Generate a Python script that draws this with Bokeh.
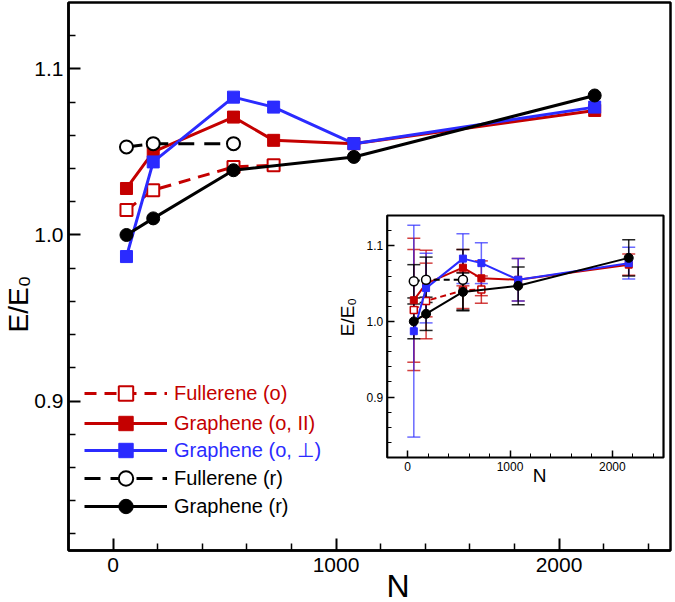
import numpy as np
from bokeh.plotting import figure
from bokeh.models import (Range1d, LinearAxis, FixedTicker, Legend, LegendItem, Title,
                          Whisker, TeeHead, ColumnDataSource, PrintfTickFormatter)
from bokeh.embed import file_html
from bokeh.resources import INLINE

# ---------------- data ----------------
N_full_o = [60, 180, 540, 720]
E_full_o = [1.015, 1.027, 1.041, 1.042]
Err_full_o = [0.080, 0.050, 0.024, 0.018]

N_graph_o = [60, 180, 540, 720, 1080, 2160]
E_graph_par = [1.028, 1.050, 1.071, 1.057, 1.055, 1.075]
Err_graph_par = [0.082, 0.044, 0.024, 0.023, 0.028, 0.014]
E_graph_perp = [0.987, 1.044, 1.083, 1.077, 1.055, 1.077]
Err_graph_perp = [0.140, 0.046, 0.033, 0.027, 0.028, 0.021]

N_full_r = [60, 180, 540]
E_full_r = [1.053, 1.055, 1.055]
Err_full_r = [0.022, 0.030, 0.040]

N_graph_r = [60, 180, 540, 1080, 2160]
E_graph_r = [1.000, 1.010, 1.039, 1.047, 1.084]
Err_graph_r = [0.023, 0.022, 0.025, 0.025, 0.024]

labels = ["Fullerene (o)", "Graphene (o, II)", "Graphene (o, \u22a5)", "Fullerene (r)", "Graphene (r)"]

# axis limits and ticks
X_LIM = (-200, 2500)
Y_LIM = (0.81, 1.14)
X_MAJOR = [0, 1000, 2000]
X_MINOR = [200, 400, 600, 800, 1200, 1400, 1600, 1800, 2200, 2400]
Y_MAJOR = [0.9, 1.0, 1.1]
Y_MINOR = [0.82, 0.84, 0.86, 0.88, 0.92, 0.94, 0.96, 0.98, 1.02, 1.04, 1.06, 1.08, 1.12]
INSET_X_LIM = (-200, 2500)
INSET_Y_LIM = (0.82, 1.14)
INSET_Y_MINOR = [0.84, 0.86, 0.88, 0.92, 0.94, 0.96, 0.98, 1.02, 1.04, 1.06, 1.08, 1.12]

RED = "#c40000"
BLUE = "#2b2bff"
BLACK = "#000000"
FONT = "Liberation Sans"

# ---------------- main figure ----------------
W, H = 675, 602
p = figure(width=W, height=H, x_range=Range1d(*X_LIM), y_range=Range1d(*Y_LIM),
           output_backend="svg", toolbar_location=None,
           min_border_left=68, min_border_right=5, min_border_top=2, min_border_bottom=52,
           background_fill_color="white", border_fill_color="white")
p.xgrid.visible = False
p.ygrid.visible = False
p.outline_line_color = "black"
p.outline_line_width = 2.5
p.outline_line_alpha = 1.0

p.xaxis.ticker = FixedTicker(ticks=X_MAJOR, minor_ticks=X_MINOR)
p.yaxis.ticker = FixedTicker(ticks=Y_MAJOR, minor_ticks=Y_MINOR)
p.yaxis.formatter = PrintfTickFormatter(format="%.1f")
for ax in (p.xaxis[0], p.yaxis[0]):
    ax.major_tick_in = 12
    ax.major_tick_out = 0
    ax.minor_tick_in = 7
    ax.minor_tick_out = 0
    ax.axis_line_width = 2.5
    ax.axis_line_color = "black"
    ax.major_tick_line_width = 2
    ax.minor_tick_line_width = 1.5
    ax.major_label_text_font = FONT
    ax.major_label_text_font_size = "21px"
    ax.major_label_text_color = "black"
p.yaxis.major_label_standoff = 5
p.xaxis.major_label_standoff = 7

# main axis titles, offset along the axis as in the reference
p.add_layout(Title(text="N", align="left", offset=318, standoff=-18, text_font=FONT,
                   text_font_size="32px", text_font_style="normal", text_color="black"),
             "below")
p.add_layout(Title(text="E/E\u2080", align="left", offset=218, standoff=-4, text_font=FONT,
                   text_font_size="28px", text_font_style="normal", text_color="black"),
             "left")

# main series
l1 = p.line(N_full_o, E_full_o, line_color=RED, line_width=3, line_dash="12 8")
s1 = p.scatter(N_full_o, E_full_o, marker="square", size=12, fill_color="white",
               line_color=RED, line_width=2)
l2 = p.line(N_graph_o, E_graph_par, line_color=RED, line_width=3)
s2 = p.scatter(N_graph_o, E_graph_par, marker="square", size=12, fill_color=RED, line_color=RED)
l3 = p.line(N_graph_o, E_graph_perp, line_color=BLUE, line_width=3)
s3 = p.scatter(N_graph_o, E_graph_perp, marker="square", size=12, fill_color=BLUE, line_color=BLUE)
l4 = p.line(N_full_r, E_full_r, line_color=BLACK, line_width=3, line_dash="16 10")
s4 = p.scatter(N_full_r, E_full_r, marker="circle", size=13, fill_color="white",
               line_color=BLACK, line_width=2)
l5 = p.line(N_graph_r, E_graph_r, line_color=BLACK, line_width=3)
s5 = p.scatter(N_graph_r, E_graph_r, marker="circle", size=13, fill_color=BLACK, line_color=BLACK)

# legends (one per entry so each label gets its own colour)
leg_rows = [(labels[0], [l1, s1], RED), (labels[1], [l2, s2], RED), (labels[2], [l3, s3], BLUE),
            (labels[3], [l4, s4], BLACK), (labels[4], [l5, s5], BLACK)]
leg_y = [139, 109, 82, 54, 26]
for (lab, rs, col), yy in zip(leg_rows, leg_y):
    lg = Legend(items=[LegendItem(label=lab, renderers=rs)], location=(16, yy),
                border_line_alpha=0, background_fill_alpha=0, padding=0, margin=0, spacing=0,
                glyph_width=83, glyph_height=36, label_height=24, label_standoff=7,
                label_text_font=FONT, label_text_font_size="20px", label_text_color=col)
    p.add_layout(lg)


def label_axis(side, text, bounds, standoff, size, loc, **kw):
    ax = LinearAxis(bounds=bounds, ticker=FixedTicker(ticks=[], minor_ticks=[]),
                    axis_label=text, fixed_location=loc, **kw)
    ax.axis_line_color = None
    ax.major_tick_line_color = None
    ax.minor_tick_line_color = None
    ax.major_tick_in = 0
    ax.major_tick_out = 0
    ax.minor_tick_in = 0
    ax.minor_tick_out = 0
    ax.major_label_standoff = 0
    ax.axis_label_standoff = standoff
    ax.axis_label_text_font = FONT
    ax.axis_label_text_font_size = size
    ax.axis_label_text_font_style = "normal"
    ax.axis_label_text_color = "black"
    p.add_layout(ax, side)


# ---------------- inset (extra ranges mapped into a sub-box of the frame) ----------------
fl, fr = 0.5294, 0.9884   # horizontal fractions of the frame
fb, ft = 0.1697, 0.6113   # vertical fractions (from bottom)
xspan = (INSET_X_LIM[1] - INSET_X_LIM[0]) / (fr - fl)
x0 = INSET_X_LIM[0] - fl * xspan
yspan = (INSET_Y_LIM[1] - INSET_Y_LIM[0]) / (ft - fb)
y0 = INSET_Y_LIM[0] - fb * yspan
p.extra_x_ranges = {"ix": Range1d(x0, x0 + xspan)}
p.extra_y_ranges = {"iy": Range1d(y0, y0 + yspan)}
ik = dict(x_range_name="ix", y_range_name="iy")

p.quad(left=[INSET_X_LIM[0]], right=[INSET_X_LIM[1]], bottom=[INSET_Y_LIM[0]],
       top=[INSET_Y_LIM[1]], fill_color="white", line_color="black", line_width=2.2,
       level="underlay", **ik)

iax_y = LinearAxis(fixed_location=INSET_X_LIM[0], bounds=INSET_Y_LIM,
                   ticker=FixedTicker(ticks=Y_MAJOR, minor_ticks=INSET_Y_MINOR),
                   formatter=PrintfTickFormatter(format="%.1f"), **ik)
iax_x = LinearAxis(fixed_location=INSET_Y_LIM[0], bounds=INSET_X_LIM,
                   ticker=FixedTicker(ticks=X_MAJOR, minor_ticks=X_MINOR), **ik)
for ax in (iax_x, iax_y):
    ax.axis_line_color = None
    ax.major_tick_in = 7
    ax.major_tick_out = 0
    ax.minor_tick_in = 4
    ax.minor_tick_out = 0
    ax.major_tick_line_width = 1.5
    ax.minor_tick_line_width = 1
    ax.major_label_text_font = FONT
    ax.major_label_text_font_size = "12px"
    ax.major_label_text_color = "black"
    ax.major_label_standoff = 4
p.add_layout(iax_y, "left")
p.add_layout(iax_x, "below")

label_axis("below", "N", (76, INSET_X_LIM[1]), 7, "19px", INSET_Y_LIM[0], **ik)
label_axis("left", "E/E\u2080", (INSET_Y_LIM[0], 1.192), 30, "19px", INSET_X_LIM[0], **ik)


def add_whisker(xs, ys, errs, col, alpha):
    ys = np.array(ys)
    errs = np.array(errs)
    src = ColumnDataSource(dict(x=xs, upper=ys + errs, lower=ys - errs))
    w = Whisker(source=src, base="x", upper="upper", lower="lower", dimension="height",
                line_color=col, line_width=1.5, line_alpha=alpha,
                upper_head=TeeHead(size=13, line_color=col, line_width=1.5, line_alpha=alpha),
                lower_head=TeeHead(size=13, line_color=col, line_width=1.5, line_alpha=alpha),
                **ik)
    p.add_layout(w)


add_whisker(N_full_o, E_full_o, Err_full_o, RED, 0.75)
add_whisker(N_graph_o, E_graph_par, Err_graph_par, RED, 0.75)
add_whisker(N_graph_o, E_graph_perp, Err_graph_perp, BLUE, 0.7)
add_whisker(N_full_r, E_full_r, Err_full_r, BLACK, 0.85)
add_whisker(N_graph_r, E_graph_r, Err_graph_r, BLACK, 0.85)

p.line(N_full_o, E_full_o, line_color=RED, line_width=2, line_dash="6 4", **ik)
p.scatter(N_full_o, E_full_o, marker="square", size=7, fill_color="white", line_color=RED,
          line_width=1.5, **ik)
p.line(N_graph_o, E_graph_par, line_color=RED, line_width=2, **ik)
p.scatter(N_graph_o, E_graph_par, marker="square", size=7, fill_color=RED, line_color=RED, **ik)
p.line(N_graph_o, E_graph_perp, line_color=BLUE, line_width=2, **ik)
p.scatter(N_graph_o, E_graph_perp, marker="square", size=7, fill_color=BLUE, line_color=BLUE, **ik)
p.line(N_full_r, E_full_r, line_color=BLACK, line_width=2, line_dash="6 4", **ik)
p.scatter(N_full_r, E_full_r, marker="circle", size=9, fill_color="white", line_color=BLACK,
          line_width=1.5, **ik)
p.line(N_graph_r, E_graph_r, line_color=BLACK, line_width=2, **ik)
p.scatter(N_graph_r, E_graph_r, marker="circle", size=9, fill_color=BLACK, line_color=BLACK, **ik)

open("out.html", "w").write(file_html(p, INLINE))
